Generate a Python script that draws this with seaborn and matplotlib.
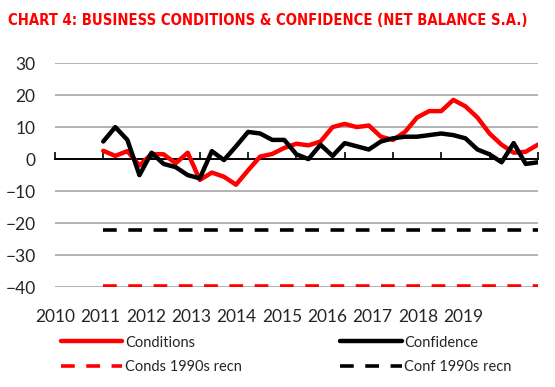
import numpy as np
import pandas as pd
import matplotlib.pyplot as plt
import seaborn as sns

# quarterly net balances, 2011 Q1 onwards
quarters = np.arange(37) * 0.25 + 2011.0
conditions = [2.6, 1.0, 2.5, -2.0, 1.6, 1.5, -1.3, 2.0, -6.5, -4.2, -5.5, -8.0,
              -3.5, 0.8, 1.6, 3.5, 4.8, 4.3, 5.5, 10.0, 11.0, 10.0, 10.5, 7.0,
              6.0, 8.5, 13.0, 15.0, 15.0, 18.5, 16.5, 13.0, 8.0, 4.5, 2.0, 2.3, 4.5]
confidence = [5.5, 10.0, 6.0, -5.0, 2.0, -1.5, -2.5, -5.0, -6.0, 2.5, -0.3, 4.0,
              8.5, 8.0, 6.0, 6.0, 1.5, 0.0, 4.5, 1.0, 5.0, 4.0, 3.0, 5.5,
              6.5, 7.0, 7.0, 7.5, 8.0, 7.5, 6.5, 3.0, 1.5, -1.0, 5.0, -1.5, -1.0]
conds_1990s = -39.5
conf_1990s = -22.0
year_labels = [str(y) for y in range(2010, 2020)]

df = pd.DataFrame({'Quarter': quarters, 'Conditions': conditions,
                   'Confidence': confidence,
                   'Conds 1990s recn': conds_1990s,
                   'Conf 1990s recn': conf_1990s})

sns.set_style('white')
plt.rcParams['font.family'] = ['Lato', 'DejaVu Sans']

fig = plt.figure(figsize=(5.55, 3.87), dpi=100)
ax = fig.add_axes([0.099, 0.258, 0.87, 0.579])

# gridlines
for g in [30, 20, 10, -10, -20, -30, -40]:
    ax.axhline(g, color='#a6a6a6', lw=1.2, zorder=0)

sns.lineplot(data=df, x='Quarter', y='Conditions', color='#ff0000', lw=3.2,
             ax=ax, label='Conditions')
sns.lineplot(data=df, x='Quarter', y='Conds 1990s recn', color='#ff0000', lw=2.6,
             ax=ax, label='Conds 1990s recn')
sns.lineplot(data=df, x='Quarter', y='Confidence', color='black', lw=3.2,
             ax=ax, label='Confidence')
sns.lineplot(data=df, x='Quarter', y='Conf 1990s recn', color='black', lw=2.6,
             ax=ax, label='Conf 1990s recn')
ax.lines[-3].set_linestyle((0, (3.8, 3.2)))
ax.lines[-1].set_linestyle((0, (3.8, 3.2)))

ax.set_xlim(2010, 2020)
ax.set_ylim(-40, 30)
ax.set_yticks(range(-40, 31, 10))
ax.tick_params(axis='y', length=0, labelsize=12.5, pad=14)
ax.set_xlabel('')
ax.set_ylabel('')
for s in ax.spines.values():
    s.set_visible(False)

# year labels along the bottom (squeezed like the original)
ax.set_xticks(2010 + np.arange(10) * 0.94)
ax.set_xticklabels(year_labels)
ax.tick_params(axis='x', length=0, labelsize=12.5, pad=16)

# zero axis with year tick marks pointing up
zax = ax.secondary_xaxis(40 / 70)
zax.set_xticks(range(2010, 2021))
zax.set_xticklabels([])
zax.tick_params(axis='x', direction='out', length=5, width=1.2, color='black',
                labeltop=False, labelbottom=False)
zax.spines['top'].set_linewidth(1.4)
zax.spines['top'].set_color('black')

h, l = ax.get_legend_handles_labels()
ax.legend(h, l, ncol=2, loc='upper left', bbox_to_anchor=(0.0, -0.19),
          borderaxespad=0, frameon=False, fontsize=10.5, handlelength=4.2,
          handletextpad=0.2, columnspacing=6.75, labelspacing=0.7)

title = fig.text(0.015, 0.946,
                 'CHART 4: BUSINESS CONDITIONS & CONFIDENCE (NET BALANCE S.A.)',
                 color='#ff0000', fontsize=14, fontweight='bold',
                 fontstretch='condensed', family=['DejaVu Sans'], va='center')
# shrink the title so it fits the width of the original
fig.canvas.draw()
w = title.get_window_extent().width
title.set_fontsize(14 * 522 / w)

fig.savefig('out.png', dpi=100)
